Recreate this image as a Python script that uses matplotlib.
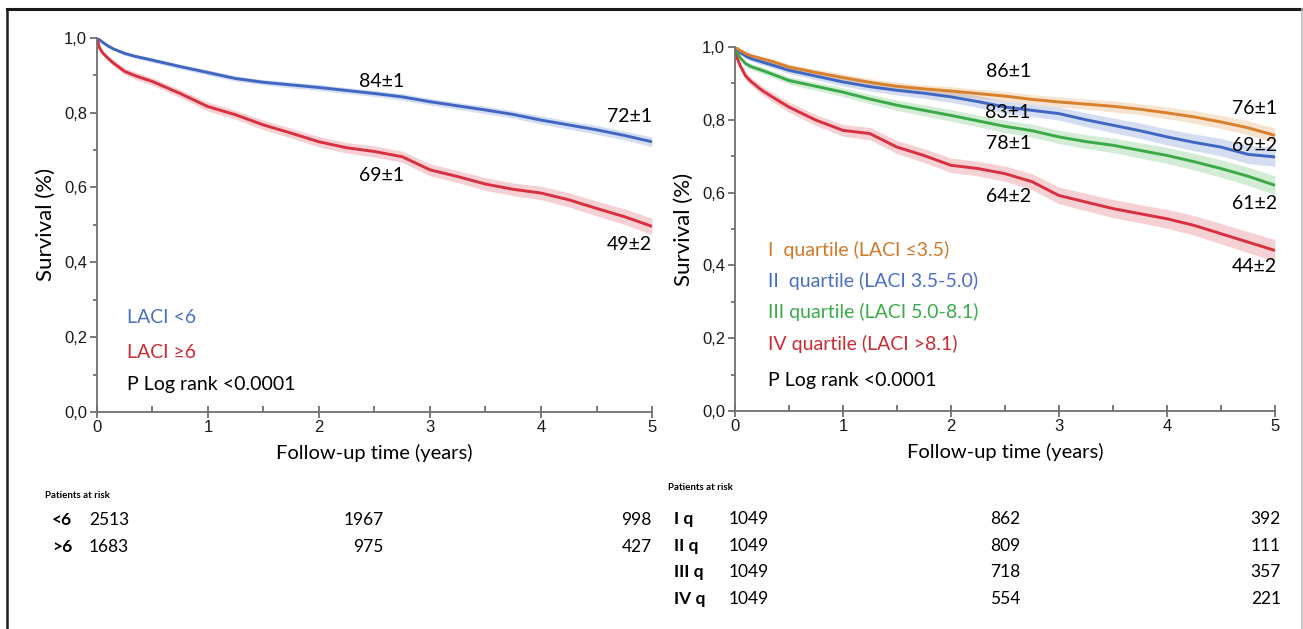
import numpy as np
import matplotlib
matplotlib.use('Agg')
import matplotlib.pyplot as plt
from matplotlib.lines import Line2D
from matplotlib.ticker import MultipleLocator, FuncFormatter

# ---------------------------------------------------------------- data
# survival (years)
t = [0, 0.02, 0.05, 0.1, 0.15, 0.25, 0.35, 0.5, 0.75, 1, 1.25, 1.5, 1.75, 2, 2.25, 2.5,
     2.75, 3, 3.25, 3.5, 3.75, 4, 4.25, 4.5, 4.75, 5]

# left panel: LACI <6 / LACI >=6
laci_lt6 = [1.0, 0.995, 0.988, 0.978, 0.97, 0.958, 0.95, 0.94, 0.923, 0.907, 0.891, 0.881,
            0.874, 0.867, 0.859, 0.851, 0.842, 0.829, 0.818, 0.807, 0.795, 0.78, 0.767,
            0.754, 0.739, 0.722]
laci_ge6 = [1.0, 0.975, 0.96, 0.945, 0.932, 0.91, 0.898, 0.883, 0.851, 0.816, 0.794, 0.767,
            0.745, 0.722, 0.706, 0.696, 0.682, 0.647, 0.629, 0.609, 0.595, 0.585, 0.567,
            0.544, 0.522, 0.496]
ci_lt6 = [0, 0.002, 0.003, 0.004, 0.004, 0.005, 0.005, 0.006, 0.006, 0.007, 0.007, 0.007,
          0.008, 0.008, 0.008, 0.008, 0.009, 0.009, 0.009, 0.01, 0.01, 0.011, 0.011, 0.012,
          0.012, 0.013]
ci_ge6 = [0, 0.004, 0.006, 0.007, 0.008, 0.009, 0.01, 0.01, 0.011, 0.012, 0.012, 0.013,
          0.013, 0.014, 0.014, 0.015, 0.015, 0.016, 0.016, 0.017, 0.017, 0.018, 0.019, 0.02,
          0.021, 0.022]

# right panel: quartiles
q1 = [1.0, 0.996, 0.99, 0.982, 0.976, 0.968, 0.96, 0.945, 0.93, 0.916, 0.903, 0.892, 0.885,
      0.879, 0.872, 0.865, 0.856, 0.849, 0.843, 0.837, 0.829, 0.819, 0.808, 0.794, 0.778,
      0.757]
q2 = [1.0, 0.994, 0.985, 0.975, 0.968, 0.959, 0.95, 0.936, 0.92, 0.904, 0.891, 0.881, 0.873,
      0.863, 0.85, 0.835, 0.826, 0.817, 0.8, 0.785, 0.77, 0.753, 0.738, 0.725, 0.705, 0.698]
q3 = [1.0, 0.985, 0.97, 0.954, 0.946, 0.936, 0.925, 0.908, 0.892, 0.876, 0.857, 0.84, 0.826,
      0.812, 0.797, 0.782, 0.77, 0.753, 0.74, 0.73, 0.716, 0.702, 0.685, 0.666, 0.645, 0.62]
q4 = [1.0, 0.97, 0.948, 0.92, 0.905, 0.881, 0.862, 0.835, 0.799, 0.771, 0.762, 0.725, 0.702,
      0.675, 0.666, 0.652, 0.63, 0.592, 0.574, 0.556, 0.542, 0.528, 0.51, 0.487, 0.464,
      0.441]
ci_q1 = [0, 0.002, 0.004, 0.005, 0.005, 0.006, 0.007, 0.008, 0.009, 0.01, 0.01, 0.011, 0.011,
         0.012, 0.012, 0.013, 0.013, 0.014, 0.014, 0.015, 0.015, 0.016, 0.017, 0.018, 0.019,
         0.02]
ci_q2 = [0, 0.003, 0.005, 0.006, 0.007, 0.008, 0.008, 0.009, 0.01, 0.011, 0.012, 0.013, 0.014,
         0.015, 0.016, 0.017, 0.017, 0.018, 0.019, 0.02, 0.021, 0.022, 0.023, 0.024, 0.025,
         0.026]
ci_q3 = [0, 0.004, 0.006, 0.007, 0.008, 0.009, 0.009, 0.01, 0.011, 0.012, 0.013, 0.014, 0.015,
         0.016, 0.016, 0.017, 0.018, 0.018, 0.019, 0.02, 0.021, 0.022, 0.023, 0.024, 0.025,
         0.026]
ci_q4 = [0, 0.005, 0.008, 0.01, 0.011, 0.012, 0.013, 0.014, 0.015, 0.016, 0.017, 0.018, 0.019,
         0.02, 0.02, 0.021, 0.022, 0.023, 0.024, 0.025, 0.025, 0.026, 0.027, 0.028, 0.029,
         0.03]

# labels of survival (%) at 2.5 and 5 years
left_mid = ['84±1', '69±1']
left_end = ['72±1', '49±2']
right_mid = ['86±1', '83±1', '78±1', '64±2']
right_end = ['76±1', '69±2', '61±2', '44±2']

# patients at risk
risk_left_groups = ['<6', '>6']
risk_left = [[2513, 1967, 998], [1683, 975, 427]]
risk_right_groups = ['I q', 'II q', 'III q', 'IV q']
risk_right = [[1049, 862, 392], [1049, 809, 111], [1049, 718, 357], [1049, 554, 221]]

BLUE = '#3f67c2'
RED = '#d8303f'
ORANGE = '#d8802c'
GREEN = '#3aaa46'
TXT_FONT = ['Lato', 'DejaVu Sans']
TICK_FONT = ['Liberation Sans', 'DejaVu Sans']
SPINE = '#707070'


def style_axes(ax):
    ax.set_xlim(0, 5)
    ax.set_ylim(0, 1.0)
    for s in ['top', 'right']:
        ax.spines[s].set_visible(False)
    for s in ['left', 'bottom']:
        ax.spines[s].set_color(SPINE)
        ax.spines[s].set_linewidth(1.3)
    ax.xaxis.set_major_locator(MultipleLocator(1))
    ax.xaxis.set_minor_locator(MultipleLocator(0.5))
    ax.yaxis.set_major_locator(MultipleLocator(0.2))
    ax.yaxis.set_minor_locator(MultipleLocator(0.1))
    ax.yaxis.set_major_formatter(FuncFormatter(lambda v, p: ('%.1f' % v).replace('.', ',')))
    ax.tick_params(axis='x', which='major', direction='inout', length=8, width=1.3,
                   color=SPINE, pad=2)
    ax.tick_params(axis='x', which='minor', direction='in', length=4, width=1.3, color=SPINE)
    ax.tick_params(axis='y', which='major', direction='out', length=5, width=1.3,
                   color=SPINE, pad=2)
    ax.tick_params(axis='y', which='minor', direction='out', length=3, width=1.3, color=SPINE)
    for lab in ax.get_xticklabels() + ax.get_yticklabels():
        lab.set_fontfamily(TICK_FONT)
        lab.set_fontsize(12)
        lab.set_color('#1a1a1a')
    ax.set_xlabel('Follow-up time (years)', family=TXT_FONT, fontsize=14.5, labelpad=6)
    ax.set_ylabel('Survival (%)', family=TXT_FONT, fontsize=16, labelpad=6)


def curve(ax, y, ci, color):
    y = np.array(y)
    ci = np.array(ci)
    ax.fill_between(t, y - ci, y + ci, color=color, alpha=0.22, lw=0)
    ax.plot(t, y, color=color, lw=2.1, solid_capstyle='butt')


fig = plt.figure(figsize=(13.03, 6.29), dpi=100)

# ---------------------------------------------------------------- left panel
ax1 = fig.add_axes([0.0744, 0.345, 0.426, 0.595])
curve(ax1, laci_lt6, ci_lt6, BLUE)
curve(ax1, laci_ge6, ci_ge6, RED)
style_axes(ax1)
ax1.text(2.56, 0.883, left_mid[0], family=TXT_FONT, fontsize=14, ha='center', va='center')
ax1.text(2.56, 0.632, left_mid[1], family=TXT_FONT, fontsize=14, ha='center', va='center')
ax1.text(4.8, 0.789, left_end[0], family=TXT_FONT, fontsize=14, ha='center', va='center')
ax1.text(4.8, 0.448, left_end[1], family=TXT_FONT, fontsize=14, ha='center', va='center')
ax1.text(0.27, 0.253, 'LACI <6', color='#4a70c6', family=TXT_FONT, fontsize=14, va='center')
ax1.text(0.27, 0.159, 'LACI ≥6', color='#cc2b35', family=TXT_FONT, fontsize=14, va='center')
ax1.text(0.27, 0.073, 'P Log rank <0.0001', color='black', family=TXT_FONT, fontsize=14,
         va='center')

# ---------------------------------------------------------------- right panel
ax2 = fig.add_axes([0.564, 0.3466, 0.4145, 0.5787])
curve(ax2, q4, ci_q4, RED)
curve(ax2, q3, ci_q3, GREEN)
curve(ax2, q2, ci_q2, BLUE)
curve(ax2, q1, ci_q1, ORANGE)
style_axes(ax2)
for lab, yy in zip(right_mid, [0.934, 0.819, 0.734, 0.588]):
    ax2.text(2.53, yy, lab, family=TXT_FONT, fontsize=14, ha='center', va='center')
for lab, yy in zip(right_end, [0.831, 0.73, 0.57, 0.396]):
    ax2.text(4.81, yy, lab, family=TXT_FONT, fontsize=14, ha='center', va='center')
legend_txt = ['I  quartile (LACI ≤3.5)', 'II  quartile (LACI 3.5-5.0)',
              'III quartile (LACI 5.0-8.1)', 'IV quartile (LACI >8.1)']
legend_col = ['#d07a28', '#4a70c6', '#3cab4a', '#cc2b35']
for lab, col, yy in zip(legend_txt, legend_col, [0.443, 0.356, 0.272, 0.185]):
    ax2.text(0.31, yy, lab, color=col, family=TXT_FONT, fontsize=14, va='center')
ax2.text(0.31, 0.084, 'P Log rank <0.0001', color='black', family=TXT_FONT, fontsize=14,
         va='center')

# ---------------------------------------------------------------- risk tables
W, H = 1303.0, 629.0


def ftext(x, y, s, **kw):
    fig.text(x / W, 1 - y / H, s, family=TXT_FONT, va='center', **kw)


ftext(45, 495, 'Patients at risk', fontsize=7, fontweight='bold')
for i, (g, row) in enumerate(zip(risk_left_groups, risk_left)):
    yy = 520 + i * 27
    ftext(52, yy, g, fontsize=12.5, fontweight='bold')
    ftext(89, yy, str(row[0]), fontsize=12.5)
    ftext(384, yy, str(row[1]), fontsize=12.5, ha='right')
    ftext(652, yy, str(row[2]), fontsize=12.5, ha='right')

ftext(668, 488, 'Patients at risk', fontsize=7, fontweight='bold')
for i, (g, row) in enumerate(zip(risk_right_groups, risk_right)):
    yy = 519 + i * 26.7
    ftext(674, yy, g, fontsize=12.5, fontweight='bold')
    ftext(729, yy, str(row[0]), fontsize=12.5)
    ftext(1020, yy, str(row[1]), fontsize=12.5, ha='right')
    ftext(1281, yy, str(row[2]), fontsize=12.5, ha='right')

# frame around the figure (top, left, right edges)
fig.add_artist(Line2D([7 / W, 1301 / W], [1 - 9 / H, 1 - 9 / H], color='#1a1a1a', lw=2.2))
fig.add_artist(Line2D([7 / W, 7 / W], [0, 1 - 9 / H], color='#1a1a1a', lw=1.8))
fig.add_artist(Line2D([1301.5 / W, 1301.5 / W], [0, 1 - 9 / H], color='#bbbbbb', lw=1.2))

fig.savefig('out.png', dpi=100)
